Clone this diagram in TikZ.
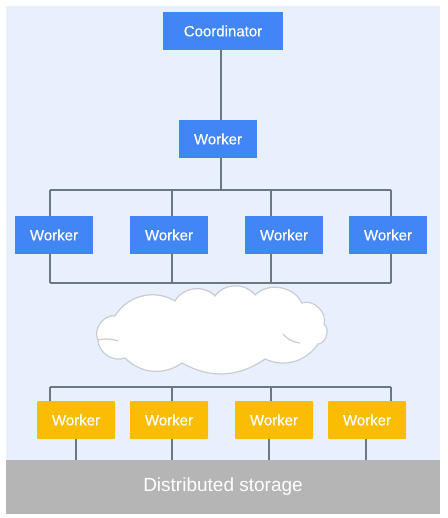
\documentclass[tikz,border=0pt]{standalone}
\usepackage{fontspec}
\setmainfont{Liberation Sans}
\newfontfamily\medfont[FakeBold=0.4]{Liberation Sans}
\definecolor{bgblue}{HTML}{E8F0FE}
\definecolor{gblue}{HTML}{4285F4}
\definecolor{gyellow}{HTML}{FBBC04}
\definecolor{linegray}{HTML}{6B7785}
\definecolor{storegray}{HTML}{B5B5B5}
\definecolor{cloudedge}{HTML}{C9CDD2}
\begin{document}
\begin{tikzpicture}[x=1pt,y=-1pt,
  bluebox/.style={fill=gblue,text=white,inner sep=0pt,minimum width=78pt,minimum height=37pt,font=\medfont\fontsize{15}{18}\selectfont},
  yellowbox/.style={fill=gyellow,text=white,inner sep=0pt,minimum width=78pt,minimum height=38pt,rounded corners=1pt,font=\medfont\fontsize{15}{18}\selectfont},
  wire/.style={draw=linegray,line width=1.5pt},
  cloudline/.style={draw=cloudedge,line width=1.2pt}]
\useasboundingbox (0,0) rectangle (447,518);
\fill[white] (0,0) rectangle (447,518);
\fill[bgblue] (6,6) rectangle (440,514);
% storage
\node[fill=storegray,text=white,inner sep=0pt,minimum width=434pt,minimum height=54pt,font=\fontsize{19}{22}\selectfont] (store) at (223,487) {Distributed storage};
% nodes
\node[bluebox,minimum width=120pt,minimum height=38pt] (coord) at (223,31) {Coordinator};
\node[bluebox,minimum height=38pt] (wm) at (218,139) {Worker};
\node[bluebox] (w1) at (54,235) {Worker};
\node[bluebox] (w2) at (169,235) {Worker};
\node[bluebox] (w3) at (284,235) {Worker};
\node[bluebox] (w4) at (388,235) {Worker};
\node[yellowbox] (y1) at (76,420) {Worker};
\node[yellowbox] (y2) at (169,420) {Worker};
\node[yellowbox] (y3) at (274,420) {Worker};
\node[yellowbox] (y4) at (367,420) {Worker};
% cloud (screen coordinates, y up negative)
\begin{scope}[y=1pt]
\path[cloudline,fill=white]
  (115,-316) to[bend left=45] (175,-301)
  to[bend left=55] (215,-296)
  to[bend left=55] (255,-295)
  to[bend left=55] (302,-303)
  to[bend left=65] (324,-324)
  to[bend left=70] (318,-344)
  to[bend left=40] (265,-359)
  to[bend left=32] (182,-363)
  to[bend left=40] (125,-358)
  to[bend left=55] (98,-340)
  to[bend left=65] (115,-316) -- cycle;
\draw[cloudline] (98,-340) to[bend left=15] (118,-341);
\draw[cloudline] (283,-334) to[bend right=20] (300,-343);
\end{scope}
% bus coordinates
\coordinate (t1) at (50,190); \coordinate (t2) at (172,190); \coordinate (t3) at (271,190); \coordinate (t4) at (391,190); \coordinate (tm) at (221,190);
\coordinate (m1) at (50,283); \coordinate (m2) at (172,283); \coordinate (m3) at (271,283); \coordinate (m4) at (391,283);
\coordinate (l1) at (50,387); \coordinate (l2) at (172,387); \coordinate (l3) at (271,387); \coordinate (l4) at (391,387);
\coordinate (s1) at (76,460); \coordinate (s2) at (172,460); \coordinate (s3) at (269,460); \coordinate (s4) at (366,460);
% wires
\draw[wire] (coord.south -| tm) -- (wm.north -| tm);
\draw[wire] (wm.south -| tm) -- (tm);
\draw[wire] (t1) -- (t4);
\draw[wire] (t1) -- (t1 |- w1.north);
\draw[wire] (t2) -- (t2 |- w2.north);
\draw[wire] (t3) -- (t3 |- w3.north);
\draw[wire] (t4) -- (t4 |- w4.north);
\draw[wire] (m1) -- (m4);
\draw[wire] (m1) -- (m1 |- w1.south);
\draw[wire] (m2) -- (m2 |- w2.south);
\draw[wire] (m3) -- (m3 |- w3.south);
\draw[wire] (m4) -- (m4 |- w4.south);
\draw[wire] (l1) -- (l4);
\draw[wire] (l1) -- (l1 |- y1.north);
\draw[wire] (l2) -- (l2 |- y2.north);
\draw[wire] (l3) -- (l3 |- y3.north);
\draw[wire] (l4) -- (l4 |- y4.north);
\draw[wire] (s1 |- y1.south) -- (s1);
\draw[wire] (s2 |- y2.south) -- (s2);
\draw[wire] (s3 |- y3.south) -- (s3);
\draw[wire] (s4 |- y4.south) -- (s4);
\end{tikzpicture}
\end{document}
